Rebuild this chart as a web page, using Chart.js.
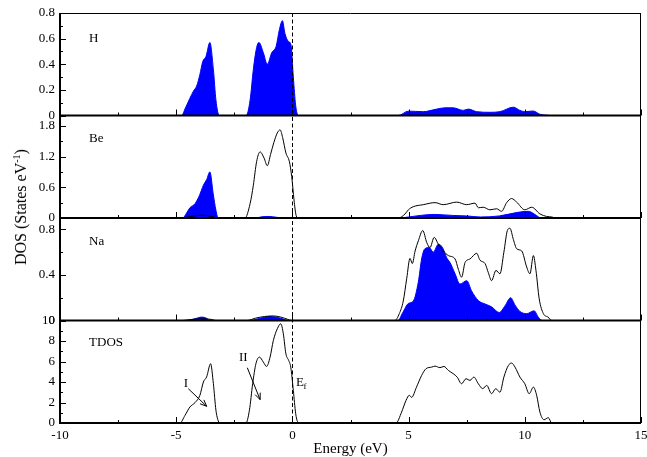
<!DOCTYPE html>
<html>
<head>
<meta charset="utf-8">
<title>DOS</title>
<script src="https://cdn.jsdelivr.net/npm/chart.js@4.4.0/dist/chart.umd.min.js"></script>
<style>
  html, body { margin: 0; padding: 0; background: #fff; }
  #wrap { position: relative; width: 647px; height: 457px; }
  #dos { position: absolute; left: 0; top: 0; }
  #ytitle {
    position: absolute; left: 21px; top: 207px;
    transform: translate(-50%, -50%) rotate(-90deg);
    white-space: nowrap; font: 16px 'Liberation Serif', serif; color: #000; line-height: 18px;
  }
  #ytitle sup { font-size: 10px; line-height: 0; }
</style>
</head>
<body>
<div id="wrap">
  <canvas id="dos" width="647" height="457"></canvas>
  <div id="ytitle">DOS (States eV<sup>-1</sup>)</div>
</div>
<script>
// energies (eV) and densities for each curve
const hE = [-4.85, -4.77, -4.6, -4.41, -4.26, -4.12, -3.98, -3.86, -3.72, -3.55, -3.40, -3.29, -3.15, -3.05,
  -2.1, -1.99, -1.82, -1.68, -1.54, -1.44, -1.25, -1.08, -0.89, -0.70, -0.56, -0.43, -0.32, -0.18, -0.06, 0.04, 0.14, 0.25, 0.35,
  4.4, 4.56, 4.99, 5.63, 6.21, 6.57, 6.92, 7.35, 7.57, 7.93, 8.50, 8.93, 9.51, 9.79, 10.0, 10.36, 10.65, 11.08];
const hDos = [0, 0, 0.06, 0.135, 0.19, 0.23, 0.32, 0.42, 0.46, 0.57, 0.36, 0.12, 0, 0,
  0, 0, 0.12, 0.36, 0.53, 0.57, 0.49, 0.40, 0.49, 0.54, 0.67, 0.74, 0.64, 0.58, 0.55, 0.30, 0.08, 0, 0,
  0, 0, 0.034, 0.03, 0.05, 0.06, 0.06, 0.04, 0.05, 0.03, 0.025, 0.03, 0.065, 0.04, 0.03, 0.035, 0.01, 0];

const beFillE = [-4.85, -4.72, -4.55, -4.41, -4.19, -4.0, -3.83, -3.69, -3.55, -3.41, -3.29, -3.19, -3.1,
  -1.6, -1.3, -1.0, -0.7, -0.4,
  4.6, 5.0, 5.5, 6.1, 6.9, 7.5, 8.1, 8.9, 9.7, 10.15, 10.5, 10.7, 10.9];
const beFill = [0, 0, 0.1, 0.20, 0.28, 0.44, 0.64, 0.75, 0.90, 0.48, 0.15, 0, 0,
  0, 0.025, 0.03, 0.015, 0,
  0, 0.02, 0.05, 0.07, 0.05, 0.04, 0.02, 0.04, 0.11, 0.13, 0.05, 0, 0];
const beLineE = [-4.8, -4.5, -4.2, -3.9, -3.6, -3.3, -3.1,
  -2.1, -2.04, -1.82, -1.68, -1.54, -1.39, -1.22, -1.08, -0.94, -0.80, -0.65, -0.53, -0.42, -0.28, -0.13, -0.03, 0.07, 0.16, 0.25, 0.4,
  4.4, 4.56, 4.85, 4.99, 5.2, 5.63, 6.14, 6.49, 7.07, 7.50, 7.86, 8.0, 8.21, 8.50, 8.79, 9.0, 9.22, 9.43, 9.65, 10.0, 10.3, 10.65, 10.94, 11.16, 11.3];
const beLine = [0, 0.02, 0.04, 0.055, 0.04, 0.01, 0,
  0, 0, 0.28, 0.64, 1.10, 1.29, 1.17, 1.02, 1.24, 1.47, 1.66, 1.72, 1.57, 1.27, 1.10, 0.81, 0.35, 0.05, 0, 0,
  0, 0, 0.08, 0.16, 0.22, 0.26, 0.30, 0.26, 0.31, 0.26, 0.29, 0.20, 0.21, 0.16, 0.18, 0.13, 0.30, 0.38, 0.31, 0.16, 0.21, 0.08, 0.03, 0.02, 0];

const naFillE = [-4.7, -4.55, -4.2, -3.9, -3.7, -3.55, -3.4,
  -1.9, -1.82, -1.4, -0.96, -0.5, -0.18, -0.05,
  4.4, 4.54, 4.75, 4.99, 5.2, 5.42, 5.56, 5.7, 5.89, 6.06, 6.28, 6.46, 6.64, 6.78, 7.0, 7.21, 7.5, 7.71,
  8.0, 8.29, 8.57, 8.9, 9.15, 9.39, 9.58, 9.79, 10.08, 10.4, 10.58, 10.75, 10.9];
const naFill = [0, 0, 0.015, 0.03, 0.02, 0, 0,
  0, 0, 0.02, 0.035, 0.02, 0, 0,
  0, 0, 0.07, 0.15, 0.17, 0.34, 0.54, 0.63, 0.64, 0.60, 0.67, 0.64, 0.55, 0.51, 0.41, 0.32, 0.35, 0.26,
  0.175, 0.145, 0.12, 0.07, 0.13, 0.20, 0.135, 0.08, 0.06, 0.085, 0.03, 0, 0];
const naLineE = [-4.7, -4.3, -3.9, -3.5, -3.3,
  -1.95, -1.6, -1.2, -0.82, -0.5, -0.2, -0.05,
  4.3, 4.41, 4.6, 4.77, 4.92, 5.06, 5.16, 5.28, 5.42, 5.61, 5.78, 5.92, 6.1, 6.28, 6.5, 6.71, 7.0, 7.14, 7.28, 7.43,
  7.64, 7.93, 8.07, 8.29, 8.43, 8.57, 8.76, 8.93, 9.1, 9.25, 9.36, 9.51, 9.65, 9.87, 10.08, 10.22, 10.37, 10.48,
  10.62, 10.8, 11.0, 11.16, 11.3];
const naLine = [0, 0.01, 0.015, 0.01, 0,
  0, 0.02, 0.035, 0.04, 0.03, 0.01, 0,
  0, 0, 0.06, 0.17, 0.37, 0.545, 0.50, 0.61, 0.70, 0.79, 0.685, 0.64, 0.73, 0.67, 0.61, 0.57, 0.54, 0.45, 0.38, 0.51,
  0.54, 0.59, 0.53, 0.50, 0.42, 0.35, 0.44, 0.41, 0.60, 0.79, 0.81, 0.71, 0.63, 0.61, 0.47, 0.41, 0.57, 0.44,
  0.19, 0.06, 0.03, 0, 0];

const tdE = [-5.0, -4.84, -4.62, -4.41, -4.19, -3.98, -3.83, -3.69, -3.52, -3.40, -3.29, -3.19, -3.1,
  -2.1, -2.0, -1.85, -1.71, -1.57, -1.42, -1.25, -1.11, -0.96, -0.82, -0.65, -0.50, -0.39, -0.28, -0.16, -0.07, 0.04, 0.14, 0.23, 0.32,
  4.3, 4.46, 4.70, 4.89, 5.03, 5.13, 5.34, 5.56, 5.75, 5.99, 6.14, 6.35, 6.52, 6.71, 6.92, 7.09, 7.28, 7.47, 7.64, 7.81,
  8.0, 8.19, 8.36, 8.57, 8.75, 8.93, 9.1, 9.29, 9.43, 9.58, 9.79, 10.0, 10.19, 10.37, 10.51, 10.65, 10.83, 11.01, 11.16, 11.3];
const tdos = [0, 0, 0.75, 1.56, 1.99, 2.7, 4.0, 4.5, 5.78, 3.83, 1.24, 0.2, 0,
  0, 0, 1.24, 3.83, 5.78, 6.43, 5.94, 5.52, 6.43, 8.05, 9.19, 9.68, 8.7, 6.76, 6.1, 5.45, 3.18, 0.94, 0.1, 0,
  0, 0, 1.07, 2.21, 2.7, 2.5, 3.5, 4.64, 5.3, 5.45, 5.55, 5.4, 5.52, 5.13, 4.81, 4.48, 3.83, 4.32, 4.16, 4.48,
  3.83, 3.35, 3.67, 2.86, 3.35, 3.0, 4.48, 5.6, 5.85, 5.45, 4.48, 3.83, 2.86, 3.5, 2.7, 1.07, 0.32, 0.52, 0, 0];

// x axis ticks
const energyTicks = [-10, -5, 0, 5, 10, 15];

// panels from top to bottom: axis range, tick spacing, label and its place (eV, value)
const panels = [
  { axis: 'yH',  name: 'H',    max: 0.8, step: 0.2, minor: 0.1, labelAt: [-8.75, 0.6] },
  { axis: 'yBe', name: 'Be',   max: 2.0, step: 0.6, minor: 0.3, labelAt: [-8.75, 1.55] },
  { axis: 'yNa', name: 'Na',   max: 0.9, step: 0.4, minor: 0.2, labelAt: [-8.75, 0.69] },
  { axis: 'yT',  name: 'TDOS', max: 10,  step: 2,   minor: 1,   labelAt: [-8.75, 7.86] }
];

// arrows in the TDOS panel: text spot, arrow tail, arrow tip (eV, states)
const arrows = [
  { text: 'I',  at: [-4.58, 3.84], from: [-4.48, 3.35], to: [-3.69, 1.63] },
  { text: 'II', at: [-2.11, 6.37], from: [-1.94, 5.39], to: [-1.39, 2.28] }
];
const fermiLabelAt = [0.33, 3.99];

const BLUE = 'rgb(0,0,255)';
const pts = (xs, ys) => xs.map((x, i) => ({ x: x, y: ys[i] }));

function fillSet(xs, ys, axis) {
  return {
    data: pts(xs, ys), yAxisID: axis, fill: 'origin',
    backgroundColor: BLUE, borderColor: BLUE, borderWidth: 1,
    pointRadius: 0, cubicInterpolationMode: 'monotone', order: 1
  };
}
function lineSet(xs, ys, axis) {
  return {
    data: pts(xs, ys), yAxisID: axis, fill: false,
    borderColor: '#000', borderWidth: 1,
    pointRadius: 0, cubicInterpolationMode: 'monotone', order: 0
  };
}

function yAxis(p) {
  return {
    type: 'linear', position: 'left', stack: 'dos', stackWeight: 1, offset: false,
    min: 0, max: p.max,
    grid: { display: false, drawTicks: false },
    border: { display: false },
    ticks: {
      stepSize: p.step, includeBounds: false, autoSkip: false, color: '#000', padding: 5,
      font: { size: 13 },
      callback: v => String(+v.toFixed(1))
    },
    afterFit: s => { s.width = 60; }
  };
}

// frame, inward ticks, panel labels, Fermi level and arrows
const panelFrame = {
  id: 'panelFrame',
  afterDraw(chart) {
    const { ctx, chartArea, scales } = chart;
    const xs = scales.x;
    const { left, right, top, bottom } = chartArea;
    ctx.save();
    ctx.strokeStyle = '#000';
    ctx.fillStyle = '#000';

    panels.forEach(p => {
      const ys = scales[p.axis];
      const base = ys.bottom;
      ctx.lineWidth = 1;
      ctx.beginPath();
      for (let k = 0; -10 + k * 2.5 <= 15; k++) {
        const px = Math.round(xs.getPixelForValue(-10 + k * 2.5)) + 0.5;
        const len = k % 2 === 0 ? 6 : 3;
        ctx.moveTo(px, base);
        ctx.lineTo(px, base - len);
      }
      for (let k = 0; k * p.minor <= p.max + 1e-9; k++) {
        const v = k * p.minor;
        const py = Math.round(ys.getPixelForValue(v)) + 0.5;
        const major = Math.abs(v / p.step - Math.round(v / p.step)) < 1e-6;
        ctx.moveTo(left, py);
        ctx.lineTo(left + (major ? 6 : 3), py);
      }
      ctx.stroke();

      ctx.lineWidth = 2;
      ctx.beginPath();
      ctx.moveTo(left, base);
      ctx.lineTo(right, base);
      ctx.stroke();

      ctx.font = '13px "Liberation Serif", serif';
      ctx.textAlign = 'left';
      ctx.textBaseline = 'middle';
      ctx.fillText(p.name, xs.getPixelForValue(p.labelAt[0]), ys.getPixelForValue(p.labelAt[1]));
    });

    // outer frame
    ctx.lineWidth = 2;
    ctx.beginPath();
    ctx.moveTo(left, top);
    ctx.lineTo(left, bottom + 1);
    ctx.stroke();
    ctx.lineWidth = 1;
    ctx.beginPath();
    ctx.moveTo(left, Math.round(top) + 0.5);
    ctx.lineTo(right, Math.round(top) + 0.5);
    ctx.moveTo(Math.round(right) - 0.5, top);
    ctx.lineTo(Math.round(right) - 0.5, bottom);
    ctx.stroke();

    // Fermi level
    const x0 = Math.round(xs.getPixelForValue(0)) + 0.5;
    ctx.setLineDash([4, 2.5]);
    ctx.beginPath();
    ctx.moveTo(x0, top);
    ctx.lineTo(x0, bottom);
    ctx.stroke();
    ctx.setLineDash([]);

    // TDOS annotations
    const yt = scales.yT;
    ctx.font = '13px "Liberation Serif", serif';
    ctx.textAlign = 'center';
    ctx.textBaseline = 'middle';
    arrows.forEach(a => {
      ctx.fillText(a.text, xs.getPixelForValue(a.at[0]), yt.getPixelForValue(a.at[1]));
      const x1 = xs.getPixelForValue(a.from[0]), y1 = yt.getPixelForValue(a.from[1]);
      const x2 = xs.getPixelForValue(a.to[0]), y2 = yt.getPixelForValue(a.to[1]);
      const ang = Math.atan2(y2 - y1, x2 - x1);
      ctx.beginPath();
      ctx.moveTo(x1, y1);
      ctx.lineTo(x2, y2);
      ctx.moveTo(x2 - 7 * Math.cos(ang - 0.4), y2 - 7 * Math.sin(ang - 0.4));
      ctx.lineTo(x2, y2);
      ctx.lineTo(x2 - 7 * Math.cos(ang + 0.4), y2 - 7 * Math.sin(ang + 0.4));
      ctx.stroke();
    });
    const fx = xs.getPixelForValue(fermiLabelAt[0]), fy = yt.getPixelForValue(fermiLabelAt[1]);
    ctx.fillText('E', fx, fy);
    ctx.font = '9px "Liberation Serif", serif';
    ctx.fillText('f', fx + 5, fy + 5);
    ctx.restore();
  }
};

Chart.defaults.font.family = "'Liberation Serif', serif";
Chart.defaults.color = '#000';

new Chart(document.getElementById('dos'), {
  type: 'line',
  data: {
    datasets: [
      fillSet(hE, hDos, 'yH'),
      lineSet(beLineE, beLine, 'yBe'),
      fillSet(beFillE, beFill, 'yBe'),
      lineSet(naLineE, naLine, 'yNa'),
      fillSet(naFillE, naFill, 'yNa'),
      lineSet(tdE, tdos, 'yT')
    ]
  },
  options: {
    responsive: false,
    animation: false,
    events: [],
    layout: { padding: { top: 13, right: 6, left: 0, bottom: 0 } },
    plugins: { legend: { display: false }, tooltip: { enabled: false } },
    scales: {
      x: {
        type: 'linear', position: 'bottom', min: -10, max: 15,
        afterBuildTicks: s => { s.ticks = energyTicks.map(v => ({ value: v })); },
        grid: { display: false, drawTicks: false },
        border: { display: false },
        ticks: { color: '#000', padding: 5, maxRotation: 0, autoSkip: false, font: { size: 13 } },
        title: { display: true, text: 'Energy (eV)', color: '#000', font: { size: 15 }, padding: { top: 0, bottom: -1 } },
        afterFit: s => { s.height = 34; s.paddingLeft = 0; s.paddingRight = 0; }
      },
      yT: yAxis(panels[3]),
      yNa: yAxis(panels[2]),
      yBe: yAxis(panels[1]),
      yH: yAxis(panels[0])
    }
  },
  plugins: [panelFrame]
});
</script>
</body>
</html>
